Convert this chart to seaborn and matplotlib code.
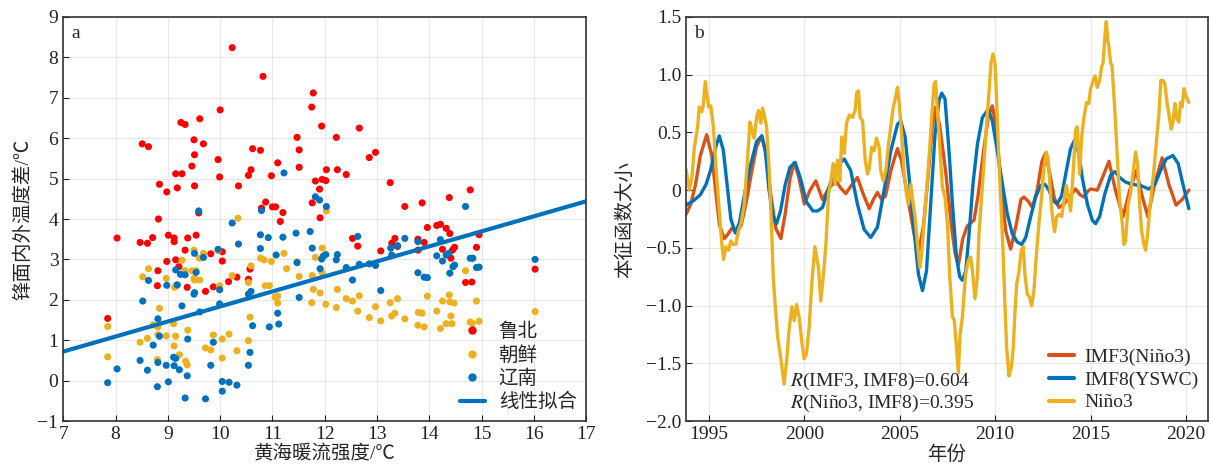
import numpy as np
import pandas as pd
import seaborn as sns
import matplotlib
matplotlib.use('Agg')
import matplotlib.pyplot as plt
from matplotlib.lines import Line2D
from matplotlib.ticker import FuncFormatter

# ---- panel a: scatter (x = 黄海暖流强度, y = 锋面内外温度差)
lubei_x = [10.23, 10.82, 11.78, 11.75, 11.94, 12.22, 10.00, 9.25, 9.33, 9.61, 8.51, 8.63, 9.50, 9.68,
           9.51, 9.96, 9.46, 10.62, 10.77, 11.47, 11.51, 11.51, 11.10, 10.59, 10.54, 9.15, 9.27, 8.84,
           8.98, 9.18, 9.51, 9.99, 10.35, 10.98, 12.03, 12.24, 11.82, 11.95, 12.02, 11.90, 11.76, 11.91,
           10.87, 10.79, 11.00, 11.06, 11.20, 11.15, 8.82, 9.59, 8.03, 8.71, 9.01, 9.12, 9.38, 9.54,
           12.66, 12.85, 12.97, 12.41, 13.25, 13.53, 13.86, 14.38, 14.78, 13.96, 14.14, 14.21, 14.32,
           14.39, 14.95, 12.53, 13.34, 13.78,
           9.33, 9.15, 8.98, 8.81, 9.21, 8.80, 9.17, 9.37, 9.72, 9.87, 9.82, 10.04, 10.04, 10.16, 10.32,
           10.54, 10.57, 7.85, 8.47, 8.61, 9.12,
           12.63, 13.07, 13.28, 13.39, 13.78, 13.90, 14.25, 14.41, 14.44, 14.48, 14.69, 14.81, 14.90, 16.02]
lubei_y = [8.24, 7.53, 7.12, 6.77, 6.30, 6.02, 6.70, 6.39, 6.34, 6.48, 5.86, 5.79, 5.96, 5.86,
           5.59, 5.47, 5.31, 5.74, 5.70, 6.02, 5.71, 5.28, 5.39, 5.22, 5.08, 5.12, 5.12, 4.86,
           4.67, 4.77, 4.82, 5.04, 4.82, 5.07, 5.22, 5.22, 4.94, 4.98, 4.95, 4.74, 4.40, 4.03,
           4.42, 4.27, 4.30, 4.30, 4.16, 3.94, 4.00, 4.15, 3.53, 3.54, 3.60, 3.53, 3.53, 3.60,
           6.25, 5.52, 5.65, 5.10, 4.90, 4.31, 4.40, 4.53, 4.72, 3.79, 3.84, 3.87, 3.77,
           3.64, 3.61, 3.52, 3.52, 3.50,
           3.23, 2.99, 2.95, 2.72, 2.82, 2.35, 2.36, 2.31, 2.21, 2.32, 3.14, 3.19, 2.96, 2.45, 2.56,
           2.51, 2.76, 1.54, 3.42, 3.40, 3.44,
           3.33, 3.21, 3.40, 3.32, 3.23, 3.42, 3.25, 3.03, 3.23, 3.30, 2.43, 2.44, 3.30, 2.76]

chaoxian_x = [10.34, 12.03, 7.85, 7.85, 8.52, 8.63, 8.47, 8.61, 8.72, 8.81, 8.84, 8.81, 8.80, 8.97,
              8.97, 9.11, 9.12, 9.15, 9.13, 9.22, 9.27, 9.33, 9.34, 9.37, 9.38, 9.46, 9.50, 9.51,
              9.54, 9.50, 9.61, 9.60, 9.68, 9.72, 9.82, 9.87, 9.96, 9.99, 10.04, 10.04, 10.17, 10.23,
              10.32, 10.54, 10.57, 10.54, 10.59, 10.77, 10.84, 10.86, 10.94, 10.98, 11.10, 11.10, 11.05,
              11.22, 11.27, 11.47, 11.51, 11.76, 11.78, 11.75, 11.91, 11.82, 11.95, 12.02, 12.22, 12.24,
              11.95, 12.41, 12.53, 12.63, 12.66, 12.85, 12.97, 13.07, 13.25, 13.28, 13.34, 13.39, 13.53,
              13.78, 13.79, 13.86, 13.90, 13.96, 14.14, 14.21, 14.25, 14.32, 14.38, 14.39, 14.41, 14.43,
              14.47, 14.69, 14.78, 14.82, 14.90, 14.95, 16.02]
chaoxian_y = [4.02, 4.20, 0.59, 1.34, 2.57, 2.77, 0.95, 1.05, 1.38, 1.33, 1.79, 1.14, 0.52, 2.53,
              1.11, 1.41, 0.86, 1.10, 2.31, 0.64, 2.98, 2.72, 0.48, 0.39, 1.25, 2.72, 3.23, 2.49,
              2.72, 2.53, 2.49, 3.03, 3.15, 0.81, 0.76, 1.13, 3.22, 2.35, 0.56, 1.03, 1.15, 2.60,
              0.74, 0.99, 1.57, 2.43, 2.84, 3.03, 2.99, 2.35, 2.35, 2.95, 2.09, 1.92, 2.07,
              3.15, 2.77, 2.94, 2.58, 2.60, 2.26, 1.93, 2.17, 3.05, 3.28, 1.89, 1.81, 2.26,
              2.67, 2.03, 1.97, 1.72, 2.10, 1.56, 1.83, 1.48, 1.93, 1.60, 1.67, 2.03, 1.53,
              1.37, 1.69, 1.67, 1.33, 2.09, 1.72, 1.29, 1.97, 1.41, 2.12, 1.95, 1.60, 1.41,
              1.92, 2.72, 1.45, 1.42, 1.97, 1.47, 1.71]

liaonan_x = [11.22, 11.82, 11.90, 12.03, 9.59, 10.23, 10.79, 10.77, 10.92, 11.20, 11.45, 11.72,
             14.69, 12.63, 13.53, 14.21,
             7.85, 8.03, 8.47, 8.52, 8.63, 8.61, 8.72, 8.81, 8.84, 8.81, 8.80, 8.97, 8.98, 9.01, 9.11,
             9.15, 9.12, 9.15, 9.18, 9.22, 9.27, 9.24, 9.33, 9.33, 9.37, 9.38, 9.50, 9.51, 9.54, 9.51,
             9.61, 9.68, 9.72, 9.82, 9.87, 9.96, 9.99, 9.99, 10.04, 10.04, 10.17, 10.32, 10.35, 10.54,
             10.57, 10.54, 10.59, 10.62, 10.77, 10.94, 11.07, 11.10, 11.12, 11.47, 11.51, 11.76, 11.91,
             11.94, 11.97, 12.02, 12.22, 12.24,
             13.39, 13.26, 13.28, 13.78, 13.78, 13.90, 13.96, 14.14, 14.25, 14.32, 14.37, 14.39, 14.45,
             14.48, 14.78, 14.83, 14.90, 14.95, 16.02, 12.41, 12.53, 12.66, 12.85, 12.97, 13.07]
liaonan_y = [5.14, 4.55, 4.47, 4.31, 4.20, 3.90, 4.21, 3.61, 3.54, 3.55, 3.65, 3.69,
             4.31, 3.57, 3.52, 3.49,
             -0.05, 0.29, 0.50, 1.97, 2.48, 0.26, 0.88, 1.53, 1.10, 0.45, -0.15, 0.38, 2.36, -0.03, 0.58,
             0.55, 0.37, 2.74, 2.37, 0.27, 1.85, 2.63, 2.62, -0.43, 0.12, 1.03, 2.14, 2.18, 2.68, 3.15,
             1.70, 3.05, -0.45, 0.38, 0.95, 3.25, 1.90, 2.25, -0.02, -0.26, -0.04, -0.11, 3.38, 0.38,
             0.70, 2.14, 2.21, 1.36, 3.27, 1.33, 3.11, 1.67, 1.40, 2.92, 2.06, 3.28, 2.77,
             3.01, 3.08, 3.12, 2.99, 3.12,
             3.34, 3.28, 3.11, 3.44, 2.67, 2.56, 2.55, 3.09, 2.96, 3.11, 3.15, 2.66, 2.82,
             2.86, 3.03, 3.03, 2.80, 2.81, 3.00, 2.80, 2.49, 2.88, 2.89, 2.85, 2.23]

fit_slope = 0.372
fit_intercept = -1.884
fit_range = [7, 17]

# ---- panel b: time series
imf3_year = [1993.8, 1994.05, 1994.3, 1994.55, 1994.88, 1995.15, 1995.35, 1995.55, 1995.8, 1996.0,
             1996.2, 1996.45, 1996.7, 1996.97, 1997.25, 1997.5, 1997.77, 1998.0, 1998.25, 1998.5,
             1998.77, 1999.0, 1999.25, 1999.47, 1999.7, 2000.0, 2000.3, 2000.6, 2000.95, 2001.3,
             2001.65, 2001.9, 2002.17, 2002.5, 2002.78, 2003.1, 2003.4, 2003.62, 2003.83, 2004.05,
             2004.25, 2004.55, 2004.88, 2005.1, 2005.4, 2005.75, 2006.01, 2006.25, 2006.5, 2006.7,
             2006.88, 2007.1, 2007.4, 2007.7, 2007.9, 2008.07, 2008.3, 2008.54, 2008.89, 2009.1,
             2009.4, 2009.65, 2009.85, 2010.05, 2010.3, 2010.55, 2010.81, 2011.1, 2011.35, 2011.51,
             2011.75, 2011.95, 2012.2, 2012.45, 2012.64, 2012.85, 2013.1, 2013.34, 2013.6, 2013.87,
             2014.21, 2014.45, 2014.65, 2014.85, 2015.0, 2015.35, 2015.65, 2015.96, 2016.3, 2016.7,
             2017.05, 2017.39, 2017.7, 2018.0, 2018.35, 2018.75, 2019.1, 2019.48, 2019.8, 2020.15]
imf3_val = [-0.21, -0.12, 0.05, 0.30, 0.48, 0.30, 0.00, -0.30, -0.42, -0.38,
            -0.33, -0.37, -0.30, -0.09, 0.17, 0.38, 0.47, 0.30, -0.05, -0.33,
            -0.42, -0.20, 0.10, 0.24, 0.12, -0.12, 0.00, 0.08, -0.08, 0.02,
            0.08, 0.02, -0.03, 0.05, 0.11, -0.04, -0.16, -0.08, -0.02, -0.08,
            -0.05, 0.18, 0.36, 0.25, -0.05, -0.38, -0.52, -0.30, 0.15, 0.55,
            0.72, 0.55, 0.17, -0.30, -0.55, -0.65, -0.42, -0.31, -0.26, -0.05,
            0.35, 0.65, 0.73, 0.55, 0.05, -0.35, -0.51, -0.30, -0.08, -0.06,
            -0.10, -0.15, 0.00, 0.25, 0.32, 0.15, -0.07, -0.15, -0.12, -0.06,
            0.01, -0.04, -0.06, -0.01, 0.01, 0.00, 0.12, 0.25, 0.00, -0.23,
            0.00, 0.17, -0.05, -0.23, 0.05, 0.28, 0.05, -0.13, -0.08, 0.00]

imf8_year = [1993.8, 1994.2, 1994.55, 1994.85, 1995.1, 1995.35, 1995.54, 1995.75, 1995.95, 1996.15, 1996.38,
             1996.6, 1996.85, 1997.15, 1997.5, 1997.77, 1997.95, 1998.15, 1998.35, 1998.54, 1998.75,
             1999.0, 1999.25, 1999.52, 1999.8, 2000.1, 2000.45, 2000.7, 2000.95, 2001.3, 2001.65,
             2002.09, 2002.43, 2002.78, 2003.13, 2003.48, 2003.83, 2004.18, 2004.53, 2004.88, 2005.05,
             2005.28, 2005.49, 2005.75, 2005.98, 2006.19, 2006.4, 2006.62, 2006.85, 2007.06, 2007.2,
             2007.37, 2007.58, 2007.76, 2007.97, 2008.14, 2008.28, 2008.46, 2008.63, 2008.84, 2009.07,
             2009.33, 2009.64, 2009.85, 2010.11, 2010.37, 2010.64, 2010.9, 2011.16, 2011.39, 2011.6,
             2011.86, 2012.12, 2012.38, 2012.61, 2012.82, 2013.03, 2013.25, 2013.48, 2013.73, 2013.95,
             2014.18, 2014.39, 2014.56, 2014.83, 2015.09, 2015.26, 2015.47, 2015.75, 2016.05, 2016.27,
             2016.52, 2016.83, 2017.18, 2017.62, 2018.05, 2018.37, 2018.66, 2018.96, 2019.31, 2019.59,
             2019.84, 2020.15]
imf8_val = [-0.13, -0.09, -0.04, 0.05, 0.18, 0.37, 0.47, 0.35, 0.05, -0.25, -0.37,
            -0.28, -0.05, 0.20, 0.42, 0.47, 0.35, 0.00, -0.22, -0.29, -0.18,
            0.05, 0.20, 0.24, 0.10, -0.10, -0.18, -0.18, -0.15, 0.03, 0.20,
            0.27, 0.17, -0.12, -0.34, -0.41, -0.32, 0.00, 0.34, 0.57, 0.60,
            0.46, 0.11, -0.35, -0.73, -0.87, -0.70, -0.12, 0.49, 0.78, 0.84,
            0.79, 0.34, -0.12, -0.58, -0.75, -0.78, -0.70, -0.38, 0.06, 0.40,
            0.63, 0.70, 0.60, 0.34, 0.06, -0.21, -0.38, -0.45, -0.47, -0.41,
            -0.23, -0.06, 0.04, 0.05, 0.00, -0.09, -0.12, -0.05, 0.17, 0.36,
            0.44, 0.31, 0.11, -0.12, -0.26, -0.29, -0.23, -0.03, 0.13, 0.16,
            0.11, 0.07, 0.05, 0.04, 0.01, 0.05, 0.17, 0.27, 0.30, 0.23,
            0.05, -0.16]

nino3_year = [1993.8, 1993.97, 1994.11, 1994.23, 1994.41, 1994.49, 1994.63, 1994.7, 1994.81, 1994.88,
              1994.98, 1995.1, 1995.23, 1995.37, 1995.54, 1995.68, 1995.77, 1995.89, 1996.03, 1996.15,
              1996.27, 1996.41, 1996.55, 1996.68, 1996.85, 1997.02, 1997.15, 1997.25, 1997.37, 1997.5,
              1997.6, 1997.72, 1997.81, 1997.9, 1998.02, 1998.16, 1998.3, 1998.37, 1998.47, 1998.6,
              1998.77, 1998.94, 1999.07, 1999.21, 1999.35, 1999.47, 1999.59, 1999.73, 1999.87, 1999.99,
              2000.11, 2000.25, 2000.39, 2000.55, 2000.74, 2000.86, 2000.99, 2001.13, 2001.27, 2001.39,
              2001.51, 2001.61, 2001.74, 2001.86, 2001.96, 2002.09, 2002.21, 2002.35, 2002.52, 2002.66,
              2002.75, 2002.84, 2002.92, 2003.05, 2003.19, 2003.31, 2003.39, 2003.53, 2003.66, 2003.78,
              2003.92, 2004.0, 2004.13, 2004.27, 2004.41, 2004.53, 2004.65, 2004.79, 2004.88, 2004.97,
              2005.1, 2005.23, 2005.35, 2005.45, 2005.58, 2005.7, 2005.8, 2005.93, 2006.05, 2006.15,
              2006.27, 2006.4, 2006.54, 2006.67, 2006.8, 2006.88, 2006.97, 2007.09, 2007.23, 2007.37,
              2007.5, 2007.62, 2007.76, 2007.85, 2007.93, 2008.07, 2008.16, 2008.28, 2008.37, 2008.45,
              2008.59, 2008.72, 2008.84, 2008.94, 2009.07, 2009.15, 2009.29, 2009.41, 2009.54, 2009.68,
              2009.78, 2009.89, 2009.99, 2010.06, 2010.16, 2010.29, 2010.41, 2010.51, 2010.6, 2010.72,
              2010.85, 2010.95, 2011.04, 2011.13, 2011.25, 2011.37, 2011.47, 2011.56, 2011.68, 2011.81,
              2011.91, 2012.03, 2012.15, 2012.29, 2012.43, 2012.56, 2012.68, 2012.78, 2012.91, 2013.0,
              2013.11, 2013.22, 2013.34, 2013.48, 2013.6, 2013.73, 2013.83, 2013.95, 2014.07, 2014.21,
              2014.3, 2014.42, 2014.53, 2014.65, 2014.79, 2014.9, 2015.0, 2015.12, 2015.23, 2015.35,
              2015.47, 2015.58, 2015.65, 2015.75, 2015.82, 2015.9, 2015.96, 2016.05, 2016.12, 2016.27,
              2016.4, 2016.52, 2016.66, 2016.75, 2016.83, 2016.97, 2017.09, 2017.22, 2017.36, 2017.46,
              2017.57, 2017.67, 2017.79, 2017.88, 2017.97, 2018.09, 2018.23, 2018.33, 2018.44, 2018.58,
              2018.68, 2018.79, 2018.89, 2019.01, 2019.1, 2019.22, 2019.31, 2019.42, 2019.5, 2019.62,
              2019.71, 2019.8, 2019.89, 2020.01, 2020.15]
nino3_val = [0.18, 0.00, 0.11, 0.36, 0.55, 0.72, 0.68, 0.73, 0.94, 0.85,
             0.72, 0.73, 0.55, 0.20, -0.18, -0.47, -0.60, -0.49, -0.52, -0.44,
             -0.47, -0.47, -0.35, -0.29, -0.12, 0.26, 0.59, 0.52, 0.45, 0.63,
             0.69, 0.58, 0.71, 0.65, 0.55, 0.17, -0.41, -0.75, -0.99, -1.27,
             -1.46, -1.68, -1.48, -1.19, -1.01, -1.13, -0.99, -1.10, -1.32, -1.46,
             -1.42, -1.19, -0.81, -0.49, -0.67, -0.96, -0.75, -0.47, -0.03, 0.08,
             0.23, 0.05, 0.26, 0.08, 0.46, 0.32, 0.58, 0.65, 0.63, 0.69,
             0.85, 0.86, 0.63, 0.60, 0.26, 0.14, 0.18, 0.37, 0.34, 0.45,
             0.37, 0.17, 0.08, 0.17, 0.40, 0.55, 0.71, 0.81, 0.89, 0.75,
             0.49, 0.14, -0.03, -0.12, 0.05, -0.12, -0.23, -0.47, -0.67, -0.55,
             -0.29, 0.00, 0.29, 0.63, 0.92, 0.94, 0.69, 0.40, 0.03, -0.06,
             -0.30, -0.75, -1.10, -1.12, -1.27, -1.58, -1.25, -1.10, -0.90, -0.73,
             -0.61, -0.58, -0.75, -0.94, -0.75, -0.38, -0.06, 0.23, 0.55, 0.86,
             1.10, 1.18, 1.10, 0.84, 0.40, -0.09, -0.52, -0.99, -1.36, -1.61,
             -1.53, -1.36, -1.04, -0.81, -0.70, -0.52, -0.49, -0.73, -0.90, -0.93,
             -1.00, -0.87, -0.58, -0.29, -0.06, 0.20, 0.33, 0.26, -0.06, -0.23,
             -0.36, -0.23, -0.21, -0.23, -0.10, 0.04, -0.06, -0.18, 0.11, 0.52,
             0.55, 0.14, 0.46, 0.63, 0.76, 0.75, 0.88, 0.94, 0.99, 0.89,
             0.95, 1.07, 1.10, 1.33, 1.46, 1.30, 1.24, 1.10, 1.08, 0.69,
             0.29, -0.09, -0.29, -0.47, -0.44, -0.12, -0.03, 0.14, 0.33, 0.23,
             -0.12, -0.35, -0.47, -0.52, -0.41, -0.18, 0.03, 0.20, 0.40, 0.66,
             0.95, 0.95, 0.92, 0.75, 0.66, 0.53, 0.58, 0.75, 0.63, 0.59,
             0.76, 0.72, 0.88, 0.81, 0.76]

RED = '#FF0000'
YELLOW = '#EDB120'
BLUE = '#0072BD'
ORANGE = '#D95319'

sns.set_style('white')
plt.rcParams['font.family'] = ['Liberation Serif', 'Noto Sans CJK SC']
plt.rcParams['mathtext.fontset'] = 'stix'
plt.rcParams['axes.unicode_minus'] = True

fig = plt.figure(figsize=(12.11, 4.71), dpi=100)
ax1 = fig.add_axes([0.0522, 0.106, 0.432, 0.858])
ax2 = fig.add_axes([0.5665, 0.106, 0.431, 0.858])

FS = 14


def style_axes(ax):
    ax.grid(True, color='#e8e8e8', lw=0.8)
    ax.set_axisbelow(True)
    for sp in ax.spines.values():
        sp.set_visible(True)
        sp.set_color('#333333')
        sp.set_linewidth(1.2)
    ax.tick_params(direction='in', length=4, width=0.8, labelsize=FS,
                   colors='#222222', bottom=True, left=True, top=False, right=False)


# panel a
df_lb = pd.DataFrame({'x': lubei_x, 'y': lubei_y})
df_cx = pd.DataFrame({'x': chaoxian_x, 'y': chaoxian_y})
df_ln = pd.DataFrame({'x': liaonan_x, 'y': liaonan_y})
sns.scatterplot(data=df_lb, x='x', y='y', color=RED, s=26, edgecolor='none', ax=ax1, legend=False)
sns.scatterplot(data=df_cx, x='x', y='y', color=YELLOW, s=26, edgecolor='none', ax=ax1, legend=False)
sns.scatterplot(data=df_ln, x='x', y='y', color=BLUE, s=26, edgecolor='none', ax=ax1, legend=False)
fit_x = np.array(fit_range, dtype=float)
sns.lineplot(x=fit_x, y=fit_intercept + fit_slope * fit_x, color=BLUE, lw=3, ax=ax1)

ax1.set_xlim(7, 17)
ax1.set_ylim(-1, 9)
ax1.set_xticks(range(7, 18))
ax1.set_yticks(range(-1, 10))
style_axes(ax1)
ax1.set_xlabel('黄海暖流强度/℃', fontsize=FS, labelpad=2)
ax1.set_ylabel('锋面内外温度差/℃', fontsize=FS, labelpad=4)
ax1.text(0.015, 0.96, 'a', transform=ax1.transAxes, fontsize=FS, va='center', ha='left')

h_a = [Line2D([], [], marker='o', ls='', color=RED, markersize=5),
       Line2D([], [], marker='o', ls='', color=YELLOW, markersize=5),
       Line2D([], [], marker='o', ls='', color=BLUE, markersize=5),
       Line2D([], [], color=BLUE, lw=3)]
ax1.legend(h_a, ['鲁北', '朝鲜', '辽南', '线性拟合'], loc='lower right', frameon=False,
           fontsize=FS, handlelength=1.3, handletextpad=0.7, labelspacing=0.25,
           borderaxespad=0.1)

# panel b
sns.lineplot(x=imf3_year, y=imf3_val, color=ORANGE, lw=2.4, ax=ax2)
sns.lineplot(x=imf8_year, y=imf8_val, color=BLUE, lw=2.4, ax=ax2)
sns.lineplot(x=nino3_year, y=nino3_val, color=YELLOW, lw=2.4, ax=ax2)

ax2.set_xlim(1993.8, 2021.15)
ax2.set_ylim(-2.0, 1.5)
ax2.set_xticks([1995, 2000, 2005, 2010, 2015, 2020])
ax2.set_yticks(np.arange(-2.0, 1.51, 0.5))
ax2.yaxis.set_major_formatter(FuncFormatter(
    lambda v, p: '0' if abs(v) < 1e-9 else f'{v:.1f}'.replace('-', '\u2212')))
style_axes(ax2)
ax2.set_xlabel('年份', fontsize=FS, labelpad=2)
ax2.set_ylabel('本征函数大小', fontsize=FS, labelpad=8)
ax2.text(0.015, 0.96, 'b', transform=ax2.transAxes, fontsize=FS, va='center', ha='left')
ax2.text(1999.25, -1.66, r'$R$(IMF3, IMF8)=0.604', fontsize=FS, va='center', ha='left')
ax2.text(1999.25, -1.85, r'$R$(Niño3, IMF8)=0.395', fontsize=FS, va='center', ha='left')

h_b = [Line2D([], [], color=ORANGE, lw=3),
       Line2D([], [], color=BLUE, lw=3),
       Line2D([], [], color=YELLOW, lw=3)]
ax2.legend(h_b, ['IMF3(Niño3)', 'IMF8(YSWC)', 'Niño3'], loc='lower right', frameon=False,
           fontsize=FS, handlelength=1.3, handletextpad=0.5, labelspacing=0.25,
           borderaxespad=0.1)

fig.savefig('out.png', dpi=100)
